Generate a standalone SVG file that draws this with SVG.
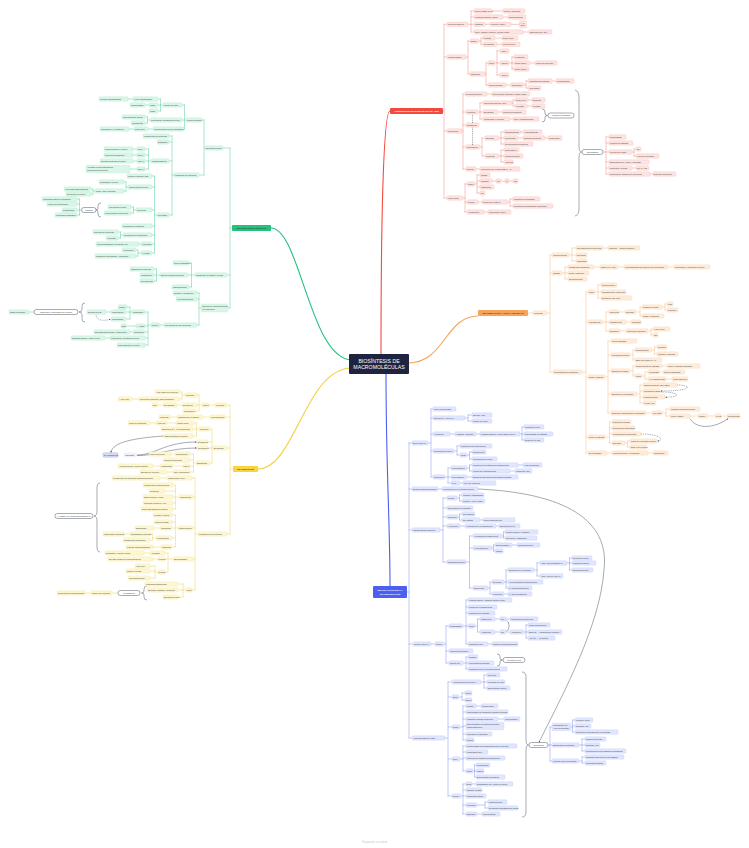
<svg xmlns="http://www.w3.org/2000/svg" width="749" height="848" viewBox="0 0 749 848">
<defs>
<style>
text{font-family:"Liberation Sans",Arial,sans-serif;font-size:2px;fill:#3a3a3a}
rect{rx:1px}
.r rect{fill:#fde4e1;stroke:#f5b2ab;stroke-width:.3}
.g rect{fill:#d9f6e8;stroke:#a6e6c9;stroke-width:.3}
.o rect{fill:#feecda;stroke:#f8cfa5;stroke-width:.3}
.y rect{fill:#fdf6d0;stroke:#f2e39c;stroke-width:.3}
.b rect{fill:#e1e6fe;stroke:#bcc6f9;stroke-width:.3}
.bx rect{fill:#fff;stroke:#3b4256;stroke-width:.45;rx:2.4px}
.bx text{text-anchor:middle}
.ln{fill:none;stroke-width:.55;stroke-linecap:round}
.lr{stroke:#f3958c}.lg{stroke:#5fd6a4}.lo{stroke:#f8c38c}.ly{stroke:#f2d66c}.lb{stroke:#8c9df6}
.mc{fill:none;stroke-width:1.1}
.rel{fill:none;stroke:#3b4256;stroke-width:.45}
.dash{stroke-dasharray:1 .8}
.main text{font-size:2.5px;font-weight:bold;text-anchor:middle}
</style>
<marker id="ah" viewBox="0 0 6 6" refX="5" refY="3" markerWidth="3.5" markerHeight="3.5" orient="auto"><path d="M0,0L6,3L0,6z" fill="#3b4256"/></marker>
</defs>
<rect x="0" y="0" width="749" height="848" fill="#fff" rx="0"/>

<g id="connectors">
<path class="mc" stroke="#f24a3f" d="M381,355 C381,230 383,111 390,111"/>
<path class="mc" stroke="#22c27d" d="M352,360 C310,360 300,228 271,228"/>
<path class="mc" stroke="#f6a45c" d="M408,363 C445,363 445,316 478,316"/>
<path class="mc" stroke="#f2cf3a" d="M352,368 C305,368 295,469 258,469"/>
<path class="mc" stroke="#4b60f0" d="M386,373 C386,470 390,520 390,586"/>

<path class="ln lr" d="M443,111 H444 M444,24.3 V198 M444,24.3 H447 M444,57 H447 M444,131 H447 M444,198 H447
M468,24.3 H471 M471,11 V32 M471,11 H474 M471,17 H474 M471,24.3 H474 M471,32 H474 M492,11 H503 M503,17 H508 M485,24.3 H490 M511,24.3 H519.5 M523,32 H529
M466,57 H468 M468,41 V74 M468,41 H470 M468,74 H470 M479,41 H481 M481,38 V44.3 M481,38 H483 M481,44.3 H483 M495,38 H502 M497,44.3 H502 M485,74 H486 M486,63 V85 M486,63 H488 M486,85 H488 M495,63 H497 M497,51 V75 M497,51 H500 M497,63 H500 M497,75 H500 M509,63 H512 M512,57 V69 M512,57 H514 M512,63 H514 M512,69 H514 M530,63 H535 M506,85 H511 M524,85 H526 M526,81 V88 M526,81 H528 M526,88 H528 M552,81 H556
M462,131 H463 M463,94 V169 M463,94 H465 M463,112 H466 M463,125 H466 M463,147 H466 M463,169 H466 M487,94 H492 M478,112 H480 M480,103 V119 M480,103 H483 M480,112 H483 M480,119 H483 M512,103 H513 M513,100 V106 M513,100 H515 M513,106 H515 M528,100 H532 M527,106 H532 M498,112 H502 M510,119 H513
M480,147 H482 M482,138 V156 M482,138 H485 M482,156 H485 M499,138 H501 M501,132 V144 M501,132 H504 M501,138 H504 M501,144 H504 M520.5,132 H523 M518,138 H523 M545,138 H548 M499,156 H501 M501,150 V162 M501,150 H504 M501,156 H504 M501,162 H504 M476,169 H480
M463,198 H465 M465,184 V212 M465,184 H467 M465,202 H467 M465,212 H467 M475,184 H477 M477,175 V193 M477,175 H480 M477,181 H480 M477,187 H480 M477,193 H480 M492,181 H496 M501,181 H505 M509,181 H513 M478,202 H482 M508,202 H510 M510,199 V206 M510,199 H513 M510,206 H513 M484,212 H488
M603,152 H606 M606,137 V174 M606,137 H609 M606,143 H609 M606,152 H609 M606,162 H609 M606,168 H609 M606,174 H609 M632,152 H634 M634,149 V156 M634,149 H636 M634,156 H636 M632,168 H636 M650,174 H653"/>
<path class="rel dash" marker-end="url(#ah)" d="M472.5,114.8 V123"/>
<path class="rel dash" marker-end="url(#ah)" d="M472.5,127.6 V145"/>
<path class="rel" d="M542,109 Q545,109 545,112 V113.5 Q545,115.5 547.5,115.5 Q545,115.5 545,117.5 V119 Q545,122 542,122"/>
<path class="rel" d="M575,90 Q579,91 579,98 V146 Q579,152 581.5,152 Q579,152 579,158 V209 Q579,215 575,216"/>

<path class="ln lg" d="M230,148 V308 M230,228 H232 M223,148 H230 M227,275 H230 M228,308 H230
M205,148 H204 M204,120 V175 M204,120 H202 M204,175 H199
M186,120 H184.5 M184.5,105 V129 M184.5,105 H182 M184.5,120 H182 M184.5,129 H184
M163,105 H160.5 M160.5,99 V111 M160.5,99 H158 M160.5,105 H158 M160.5,111 H158 M133,99 H128 M149,105 H145
M150,120 H147.5 M147.5,117 V123 M147.5,117 H145 M147.5,123 H145 M153,129 H148 M134,129 H129
M174,175 H172 M172,136 V215 M172,136 H169 M172,142 H169 M172,161 H169 M172,215 H169
M151,161 H148.5 M148.5,149 V169 M148.5,149 H145 M148.5,155 H145 M148.5,161 H145 M148.5,169 H145 M137,149 H133 M137,155 H133 M137,161 H133 M137,169 H130
M157,215 H154.5 M154.5,176 V253 M154.5,176 H152 M154.5,187 H152 M154.5,210 H152 M154.5,226 H152 M154.5,235 H152 M154.5,244 H152 M154.5,253 H152
M128,187 H126 M126,182 V191 M126,182 H124 M126,191 H124 M95,191 H93 M93,189 V194 M93,189 H91 M93,194 H91
M81.5,210 H79.5 M79.5,199 V215 M79.5,199 H77 M79.5,204 H77 M79.5,210 H77 M79.5,215 H77
M136,210 H133.5 M133.5,207 V213 M133.5,207 H131 M133.5,213 H131
M123,235 H120.5 M120.5,232 V238 M120.5,232 H118 M120.5,238 H118 M141,244 H139 M141,253 H138 M138,250 V256 M138,250 H136 M138,256 H136
M195,275 H191.5 M191.5,263 V287 M191.5,263 H189 M191.5,275 H188 M191.5,287 H189 M160,275 H156.5 M156.5,269 V281 M156.5,269 H154 M156.5,275 H154 M156.5,281 H154
M201,308 H199 M199,293 V325 M199,293 H197 M199,299 H197 M199,325 H197 M164,325 H160
M151,325 H148 M148,312 V345 M148,312 H145 M148,326 H145 M148,332 H145 M148,338 H145 M148,345 H145
M132,312 H130 M130,307 V319 M130,307 H127 M130,312 H126 M130,319 H126 M111,312 H106 M136,326 H126 M133,332 H130 M110,338 H105 M34,312 H29"/>
<path class="rel dash" marker-end="url(#ah)" d="M96,314.3 C96,321 104,321 110.5,319.3"/>
<path class="rel" d="M85,303 Q82,303 82,306 V309.5 Q82,312 79,312 Q82,312 82,314.5 V319 Q82,322 85,322"/>
<path class="rel" d="M101,203 Q98,203 98,206 V208 Q98,210 96,210 Q98,210 98,212 V214 Q98,217 101,217"/>

<path class="ln lo" d="M528,313 H533 M547,313 H550 M550,255 V372 M550,255 H552 M550,273 H552 M550,372 H553
M569,255 H572 M572,248 V261 M572,248 H576 M572,255 H576 M572,261 H576 M603,248 H608
M562,273 H565 M565,267 V279 M565,267 H568 M565,273 H568 M565,279 H568 M594,267 H600 M618,267 H624 M668,267 H674
M582,372 H586 M586,292 V453 M586,292 H588 M586,322 H588 M586,377 H588 M586,437 H588 M586,453 H588
M595,292 H598 M598,285 V298 M598,285 H601 M598,292 H601 M598,298 H601
M603,322 H606 M606,312 V331 M606,312 H609 M606,322 H609 M606,331 H609 M619,312 H625 M636,312 H640 M640,307 V316 M640,307 H642 M640,316 H642
M662,307 H665 M665,304 V310 M665,304 H667 M665,310 H667 M626,322 H631 M620,331 H626 M648,331 H651 M651,329 V335 M651,329 H653 M651,335 H653
M605,377 H608 M608,341 V413 M608,341 H611 M608,355 H611 M608,371 H611 M608,394 H611 M608,413 H611
M630,355 H633 M633,350 V360 M633,350 H635 M633,360 H635 M652,350 H654.5 M654.5,347 V354 M654.5,347 H657 M654.5,354 H657
M630,371 H633 M633,366 V376 M633,366 H635 M633,376 H635 M662,366 H667 M642,376 H645 M645,372 V379 M645,372 H648 M645,379 H648 M659,372 H663 M666,379 H672
M637,394 H640 M640,385 V403 M640,385 H643 M640,391 H643 M640,397 H643 M640,403 H643
M646,413 H652 M662,413 H666 M666,409 V416 M666,409 H670 M666,416 H670 M690,416 H698 M708,416 H715 M721,416 H727
M605,437 H609.5 M609.5,422 V443 M609.5,422 H612 M609.5,428 H612 M609.5,434 H612 M609.5,443 H612 M625,443 H627.5 M627.5,441 V447 M627.5,441 H630 M627.5,447 H630
M607,453 H612 M648,453 H653"/>
<path class="rel dash" marker-end="url(#ah)" d="M677,385 C692,385 694,391 661,391"/>
<path class="rel dash" marker-end="url(#ah)" d="M661,392 C680,392 682,397 665.5,397.3"/>
<path class="rel" marker-end="url(#ah)" d="M690,418.6 C695,428 712,430 728,418.6"/>
<path class="rel dash" marker-end="url(#ah)" d="M641,434 C662,434 664,441 657.5,441"/>

<path class="ln ly" d="M230,405 V534 M230,405 H227 M230,417 H225 M230,448 H227 M230,534 H227 M230,469 H233
M215,405 H209 M202,405 H199 M199,395 V411 M199,395 H197 M199,405 H197 M199,411 H196
M185,395 H182 M182,392 V399 M182,392 H180 M182,399 H180 M139,399 H132 M182,405 H177 M163,405 H158
M210,417 H203 M177,417 H171
M213,448 H212 M212,429 V463 M212,429 H210 M212,442 H208 M212,448 H208 M212,463 H210
M199,429 H196.5 M196.5,423 V436 M196.5,423 H194 M196.5,429 H193 M196.5,436 H193 M176,423 H167 M156,423 H150
M196,463 H193.5 M193.5,454 V472 M193.5,454 H190 M193.5,460 H190 M193.5,466 H190 M193.5,472 H190 M175,454 H171 M183,466 H173 M160,466 H153 M173,472 H167
M198,534 H195 M195,478 V590 M195,478 H192 M195,497 H193 M195,528 H193 M195,559 H193 M195,590 H192 M167,478 H160
M179,497 H175.5 M175.5,485 V509 M175.5,485 H173 M175.5,491 H165 M175.5,497 H173 M175.5,503 H173 M175.5,509 H173
M178,528 H175.5 M175.5,515 V547 M175.5,515 H172 M175.5,522 H172 M175.5,528 H172 M175.5,538 H172 M175.5,547 H172 M160,528 H154
M156,538 H152.5 M152.5,534 V540 M152.5,534 H150 M152.5,540 H150 M130,534 H124 M161,547 H153
M173,559 H168 M168,553 V572 M168,553 H165 M168,559 H165 M168,572 H165 M150,553 H144 M158,559 H153
M158,572 H155 M155,566 V578 M155,566 H150 M155,571 H150 M155,578 H150
M186,590 H183 M183,584 V597 M183,584 H178 M183,590 H178 M183,597 H178 M118,593 H112 M91,593 H85"/>
<path class="rel" marker-end="url(#ah)" d="M164,436 C135,438 112,442 111,452.5"/>
<path class="rel" marker-end="url(#ah)" d="M137,455 C155,455 165,442 196.5,442"/>
<path class="rel" marker-end="url(#ah)" d="M137,455.5 C155,456 170,448 196.5,448"/>
<path class="rel" d="M147,586 Q144,586 144,589 V591 Q144,593 141.5,593 Q144,593 144,595 V597 Q144,600 147,600"/>
<path class="rel" d="M100,483 Q97,483 97,488 V511 Q97,516 94,516 Q97,516 97,521 V547 Q97,552 100,552"/>

<path class="ln lb" d="M407,592 H409 M409,443 V738 M409,443 H412 M409,489 H412 M409,530 H412 M409,644 H413 M409,738 H412
M428,443 H431 M431,409 V477 M431,409 H433 M431,418 H433 M431,434 H433 M431,451 H433 M431,477 H433
M465,418 H468 M468,415 V421 M468,415 H472 M468,421 H472 M450,434 H455 M476,434 H480 M520,434 H522 M522,427 V440 M522,427 H524 M522,434 H524 M522,440 H524
M454,451 H457 M457,446 V455 M457,446 H460 M457,455 H460 M467,455 H469.5 M469.5,452 V459 M469.5,452 H472 M469.5,459 H472
M445,477 H448 M448,468 V483 M448,468 H451 M448,477 H451 M448,483 H451 M467,468 H469.5 M469.5,465 V471 M469.5,465 H472 M469.5,471 H472 M518,465 H523 M510,471 H515 M467,477 H472 M460,483 H463
M438,489 H442
M440,530 H443 M443,498 V562 M443,498 H447 M443,508 H447 M443,517 H447 M443,526 H447 M443,562 H447
M457,498 H459.5 M459.5,495 V501 M459.5,495 H462 M459.5,501 H462 M458,517 H459.5 M459.5,514 V520 M459.5,514 H462 M459.5,520 H462 M480,520 H483 M460,526 H465 M496,526 H499
M466,562 H469.5 M469.5,536 V588 M469.5,536 H473 M469.5,548 H473 M469.5,588 H473 M502,536 H503.5 M503.5,532 V538 M503.5,532 H505 M503.5,538 H505
M492,548 H493.5 M493.5,545 V551 M493.5,545 H495 M493.5,551 H495 M512,545 H517
M488,588 H490 M490,582 V594 M490,582 H492 M490,594 H492 M504,582 H506 M506,570 V588 M506,570 H508 M506,582 H508 M506,588 H508
M534,570 H537 M537,563 V576 M537,563 H540 M537,576 H540 M567,563 H569.5 M569.5,558 V570 M569.5,558 H572 M569.5,563 H572 M569.5,570 H572 M504,594 H508
M431,644 H435 M444,644 H446 M446,626 V663 M446,626 H449 M446,651 H449 M446,663 H449
M463,626 H466 M466,600 V644 M466,600 H468 M466,607 H468 M466,613 H468 M466,626 H468 M466,644 H468
M475,626 H477.5 M477.5,619 V632 M477.5,619 H480 M477.5,632 H480 M495,619 H500 M495,632 H500 M506,619 H510 M506,632 H510
M524,632 H526 M526,625 V638 M526,625 H528 M526,632 H528 M526,638 H528 M488,644 H492
M463,663 H466 M466,657 V669 M466,657 H468 M466,663 H468 M466,669 H468
M445,738 H448 M448,682 V796 M448,682 H452 M448,697 H452 M448,727 H452 M448,759 H452 M448,796 H452
M481,682 H484 M484,675 V688 M484,675 H487 M484,682 H487 M484,688 H487 M459,697 H462 M462,693 V700 M462,693 H465 M462,700 H465
M460,727 H463 M463,706 V740 M463,706 H466 M463,712 H466 M463,719 H466 M463,726 H466 M463,734 H466 M463,740 H466 M476,706 H481 M498,719 H504
M460,759 H463 M463,746 V771 M463,746 H466 M463,752 H466 M463,758 H466 M463,771 H466 M473,771 H474.5 M474.5,765 V777 M474.5,765 H476 M474.5,771 H476 M474.5,777 H476
M461,796 H463 M463,784 V814 M463,784 H466 M463,790 H466 M463,796 H466 M463,805 H466 M463,814 H466 M472,784 H476 M477,805 H485 M485,802 V808 M485,802 H488 M485,808 H488 M477,814 H482
M548,745 H550 M550,727 V761 M550,727 H552 M550,745 H552 M550,761 H552
M571,727 H572.5 M572.5,720 V732 M572.5,720 H575 M572.5,726 H575 M572.5,732 H575
M579,745 H582 M582,739 V751 M582,739 H585 M582,745 H585 M582,751 H585 M579,761 H582 M582,757 V763 M582,757 H585 M582,763 H585"/>
<path class="rel" marker-end="url(#ah)" d="M478,489 C565,493 610,520 604,570 C600,625 565,690 539,742.3"/>
<path class="rel" d="M522,672 Q526,672 526,677 V740 Q526,745 528.5,745 Q526,745 526,750 V812 Q526,817 522,817"/>
<path class="rel" d="M497,654 Q500,654 500,656.5 V658 Q500,660 502.5,660 Q500,660 500,662 V663.5 Q500,666 497,666"/>
<path class="rel" d="M506.5,620.5 Q509,621 509,625.5 Q509,630.5 506.5,631"/>
</g>

<g id="center"><rect x="349" y="354" width="60" height="20" rx="2" fill="#1e2440"/><text x="379" y="362.6" style="font-size:5.2px;fill:#fff;text-anchor:middle">BIOSÍNTESIS DE</text><text x="379" y="369.4" style="font-size:5.2px;fill:#fff;text-anchor:middle">MACROMOLÉCULAS</text></g>

<g class="main">
<g id="r0"><rect x="390" y="108" width="53" height="6" fill="#f24a3f"/><text x="416.5" y="111.9" style="fill:#fff">Autoduplicación/Replicación del ADN</text></g>
<g id="g0"><rect x="232" y="225" width="39" height="6" fill="#22c27d"/><text x="251.5" y="228.9">TRANSPORTE CELULAR</text></g>
<g id="o0"><rect x="478" y="310" width="50" height="6" fill="#f6a45c"/><text x="503" y="313.9">INFORMACIÓN Y CICLO CELULAR</text></g>
<g id="y0"><rect x="233" y="466" width="25" height="6" fill="#f8d443"/><text x="245.5" y="469.9">TRADUCCIÓN</text></g>
<g id="b0"><rect x="373" y="586" width="34" height="12" fill="#4b60f0"/><text x="390" y="591" style="fill:#fff">REGULACIÓN DE LA</text><text x="390" y="594.6" style="fill:#fff">TRANSCRIPCIÓN</text></g>
</g>

<g class="r">
<g id="r1"><rect x="447" y="22.1" width="21" height="4.4"/><text x="448" y="25">Contexto histórico</text></g>
<g id="r1a"><rect x="474" y="8.8" width="18" height="4.4"/><text x="475" y="11.7">Grupo Phage (1940)</text></g>
<g id="r1a1"><rect x="503" y="8.8" width="22" height="4.4"/><text x="504" y="11.7">Genes y genomas</text></g>
<g id="r1b"><rect x="474" y="14.8" width="29" height="4.4"/><text x="475" y="17.7">Friedrich Miescher (1869)</text></g>
<g id="r1b1"><rect x="508" y="14.8" width="18" height="4.4"/><text x="509" y="17.7">Descubrimiento</text></g>
<g id="r1c"><rect x="474" y="22.1" width="11" height="4.4"/><text x="475" y="25">Chargaff</text></g>
<g id="r1c1"><rect x="490" y="22.1" width="21" height="4.4"/><text x="491" y="25">Principio (1950)</text></g>
<g id="r1c2"><rect x="519.5" y="20.8" width="7" height="7"/><text x="520.5" y="23.6">A=T</text><text x="520.5" y="26.4">G≡C</text></g>
<g id="r1d"><rect x="474" y="29.8" width="49" height="4.4"/><text x="475" y="32.7">Crick, Watson, Franklin, Wilkins (1953)</text></g>
<g id="r1d1"><rect x="529" y="29.8" width="23" height="4.4"/><text x="530" y="32.7">Estructura del ADN</text></g>
<g id="r2"><rect x="447" y="54.8" width="19" height="4.4"/><text x="448" y="57.7">Características</text></g>
<g id="r2a"><rect x="470" y="38.8" width="9" height="4.4"/><text x="471" y="41.7">Bases</text></g>
<g id="r2a1"><rect x="483" y="35.8" width="12" height="4.4"/><text x="484" y="38.7">Purinas</text></g>
<g id="r2a1a"><rect x="502" y="35.8" width="16" height="4.4"/><text x="503" y="38.7">Doble anillo</text></g>
<g id="r2a2"><rect x="483" y="42.1" width="14" height="4.4"/><text x="484" y="45">Pirimidinas</text></g>
<g id="r2a2a"><rect x="502" y="42.1" width="18" height="4.4"/><text x="503" y="45">Un solo anillo</text></g>
<g id="r2b"><rect x="470" y="71.8" width="15" height="4.4"/><text x="471" y="74.7">Estructura</text></g>
<g id="r2b1"><rect x="488" y="60.8" width="7" height="4.4"/><text x="489" y="63.7">Tipos</text></g>
<g id="r2b1a"><rect x="500" y="48.8" width="9" height="4.4"/><text x="501" y="51.7">ADN-A</text></g>
<g id="r2b1b"><rect x="500" y="60.8" width="9" height="4.4"/><text x="501" y="63.7">ADN-B</text></g>
<g id="r2b1b1"><rect x="514" y="54.8" width="14" height="4.4"/><text x="515" y="57.7">2 cadenas</text></g>
<g id="r2b1b2"><rect x="514" y="60.8" width="16" height="4.4"/><text x="515" y="63.7">Surco mayor</text></g>
<g id="r2b1b2a"><rect x="535" y="60.8" width="22" height="4.4"/><text x="536" y="63.7">Unión de proteínas</text></g>
<g id="r2b1b3"><rect x="514" y="66.8" width="15" height="4.4"/><text x="515" y="69.7">Surco menor</text></g>
<g id="r2b1c"><rect x="500" y="72.8" width="9" height="4.4"/><text x="501" y="75.7">ADN-Z</text></g>
<g id="r2b2"><rect x="488" y="82.8" width="18" height="4.4"/><text x="489" y="85.7">Superenrollado</text></g>
<g id="r2b2a"><rect x="511" y="82.8" width="13" height="4.4"/><text x="512" y="85.7">Eucariotas</text></g>
<g id="r2b2a1"><rect x="528" y="78.8" width="24" height="4.4"/><text x="529" y="81.7">Histonas/nucleosomas</text></g>
<g id="r2b2a1a"><rect x="556" y="78.8" width="18" height="4.4"/><text x="557" y="81.7">Compactación</text></g>
<g id="r2b2a2"><rect x="528" y="85.8" width="13" height="4.4"/><text x="529" y="88.7">ADN girasa</text></g>
<g id="r3"><rect x="447" y="128.8" width="15" height="4.4"/><text x="448" y="131.7">Replicación</text></g>
<g id="r3a"><rect x="465" y="91.8" width="22" height="4.4"/><text x="466" y="94.7">Semiconservativa</text></g>
<g id="r3a1"><rect x="492" y="91.8" width="38" height="4.4"/><text x="493" y="94.7">Experimento Meselson y Stahl (1958)</text></g>
<g id="r3b"><rect x="466" y="109.8" width="12" height="4.4"/><text x="467" y="112.7">Iniciación</text></g>
<g id="r3b1"><rect x="483" y="100.8" width="29" height="4.4"/><text x="484" y="103.7">Zona específica del ADN</text></g>
<g id="r3b1a"><rect x="515" y="97.8" width="13" height="4.4"/><text x="516" y="100.7">Origen (ori)</text></g>
<g id="r3b1a1"><rect x="532" y="97.8" width="13" height="4.4"/><text x="533" y="100.7">Burbujas</text></g>
<g id="r3b1b"><rect x="515" y="103.8" width="12" height="4.4"/><text x="516" y="106.7">Helicasa</text></g>
<g id="r3b1b1"><rect x="532" y="103.8" width="13" height="4.4"/><text x="533" y="106.7">Primasa</text></g>
<g id="r3b2"><rect x="483" y="109.8" width="15" height="4.4"/><text x="484" y="112.7">Eucariotas</text></g>
<g id="r3b2a"><rect x="502" y="109.8" width="24" height="4.4"/><text x="503" y="112.7">Replicones múltiples</text></g>
<g id="r3b3"><rect x="483" y="116.8" width="27" height="4.4"/><text x="484" y="119.7">Procariotas: 1 replicón</text></g>
<g id="r3b3a"><rect x="513" y="116.8" width="26" height="4.4"/><text x="514" y="119.7">OriC y topoisomerasa</text></g>
<g id="r3c"><rect x="466" y="122.8" width="13" height="4.4"/><text x="467" y="125.7">Elongación</text></g>
<g id="r3d"><rect x="466" y="144.8" width="14" height="4.4"/><text x="467" y="147.7">Terminación</text></g>
<g id="r3d1"><rect x="485" y="135.8" width="14" height="4.4"/><text x="486" y="138.7">Enzimas</text></g>
<g id="r3d1a"><rect x="504" y="129.8" width="16.5" height="4.4"/><text x="505" y="132.7">Topoisomerasa</text></g>
<g id="r3d1a1"><rect x="523" y="129.8" width="19" height="4.4"/><text x="524" y="132.7">Autoensamblaje</text></g>
<g id="r3d1b"><rect x="504" y="135.8" width="14" height="4.4"/><text x="505" y="138.7">Telomerasa</text></g>
<g id="r3d1b1"><rect x="523" y="135.8" width="22" height="4.4"/><text x="524" y="138.7">Sintetiza telómeros</text></g>
<g id="r3d1b2"><rect x="548" y="135.8" width="14" height="4.4"/><text x="549" y="138.7">Longevidad</text></g>
<g id="r3d1c"><rect x="504" y="141.8" width="29" height="4.4"/><text x="505" y="144.7">Secuenciación telomérica</text></g>
<g id="r3d2"><rect x="485" y="153.8" width="14" height="4.4"/><text x="486" y="156.7">Proteínas</text></g>
<g id="r3d2a"><rect x="504" y="147.8" width="15" height="4.4"/><text x="505" y="150.7">Proteínas Ku</text></g>
<g id="r3d2b"><rect x="504" y="153.8" width="19" height="4.4"/><text x="505" y="156.7">Proteína Tus/Ter</text></g>
<g id="r3d2c"><rect x="504" y="159.8" width="9" height="4.4"/><text x="505" y="162.7">ADN-Tus</text></g>
<g id="r3e"><rect x="466" y="166.8" width="10" height="4.4"/><text x="467" y="169.7">Errores</text></g>
<g id="r3e1"><rect x="480" y="166.8" width="40" height="4.4"/><text x="481" y="169.7">Corrección por exonucleasa 3'→5'</text></g>
<g id="r4"><rect x="447" y="195.8" width="16" height="4.4"/><text x="448" y="198.7">Ciclo celular</text></g>
<g id="r4a"><rect x="467" y="181.8" width="8" height="4.4"/><text x="468" y="184.7">Fases</text></g>
<g id="r4a1"><rect x="480" y="172.8" width="10" height="4.4"/><text x="481" y="175.7">Mitosis</text></g>
<g id="r4a2"><rect x="480" y="178.8" width="12" height="4.4"/><text x="481" y="181.7">Interfase</text></g>
<g id="r4a2a"><rect x="496" y="178.8" width="5" height="4.4"/><text x="497" y="181.7">G1</text></g>
<g id="r4a2b"><rect x="505" y="178.8" width="4" height="4.4"/><text x="506" y="181.7">S</text></g>
<g id="r4a2c"><rect x="513" y="178.8" width="5" height="4.4"/><text x="514" y="181.7">G2</text></g>
<g id="r4a3"><rect x="480" y="184.8" width="14" height="4.4"/><text x="481" y="187.7">Citocinesis</text></g>
<g id="r4a4"><rect x="480" y="190.8" width="5" height="4.4"/><text x="481" y="193.7">G0</text></g>
<g id="r4b"><rect x="467" y="199.8" width="11" height="4.4"/><text x="468" y="202.7">Puntos</text></g>
<g id="r4b1"><rect x="482" y="199.8" width="26" height="4.4"/><text x="483" y="202.7">Control de la fase S</text></g>
<g id="r4b1a"><rect x="513" y="196.8" width="27" height="4.4"/><text x="514" y="199.7">Separación cromátidas</text></g>
<g id="r4b1b"><rect x="513" y="203.8" width="40" height="4.4"/><text x="514" y="206.7">Separación cromosomas homólogos</text></g>
<g id="r4c"><rect x="467" y="209.8" width="17" height="4.4"/><text x="468" y="212.7">Alteraciones</text></g>
<g id="r4c1"><rect x="488" y="209.8" width="23" height="4.4"/><text x="489" y="212.7">Infecciones virales</text></g>
<g id="rc1"><rect x="609" y="134.8" width="17" height="4.4"/><text x="610" y="137.7">Proofreading</text></g>
<g id="rc2"><rect x="609" y="140.8" width="24" height="4.4"/><text x="610" y="143.7">Proceso de cascada</text></g>
<g id="rc3"><rect x="609" y="149.8" width="23" height="4.4"/><text x="610" y="152.7">Licencia de origen</text></g>
<g id="rc3a"><rect x="636" y="146.8" width="5" height="4.4"/><text x="637" y="149.7">S1</text></g>
<g id="rc3b"><rect x="636" y="153.8" width="23" height="4.4"/><text x="637" y="156.7">Hora de replicación</text></g>
<g id="rc4"><rect x="609" y="159.8" width="40" height="4.4"/><text x="610" y="162.7">Estructuras (RF), ORIs y helicasas</text></g>
<g id="rc5"><rect x="609" y="165.8" width="23" height="4.4"/><text x="610" y="168.7">Quimeras y células</text></g>
<g id="rc5a"><rect x="636" y="165.8" width="13" height="4.4"/><text x="637" y="168.7">G1, S y G2</text></g>
<g id="rc6"><rect x="609" y="171.8" width="41" height="4.4"/><text x="610" y="174.7">Proteínas de bloqueo de replicación</text></g>
<g id="rc6a"><rect x="653" y="171.8" width="23" height="4.4"/><text x="654" y="174.7">Defectos: telómeros</text></g>
</g>

<g class="g">
<g id="g1"><rect x="205" y="145.8" width="18" height="4.4"/><text x="206" y="148.7">Envoltura nuclear</text></g>
<g id="g1a"><rect x="186" y="117.8" width="16" height="4.4"/><text x="187" y="120.7">Poros nucleares</text></g>
<g id="g1a1"><rect x="163" y="102.8" width="19" height="4.4"/><text x="164" y="105.7">Núcleo del poro</text></g>
<g id="g1a1a"><rect x="133" y="96.8" width="25" height="4.4"/><text x="134" y="99.7">Anillo citoplasmático</text></g>
<g id="g1a1a1"><rect x="99" y="96.8" width="29" height="4.4"/><text x="100" y="99.7">Fibrillas citoplasmáticas</text></g>
<g id="g1a1b"><rect x="149" y="102.8" width="9" height="4.4"/><text x="150" y="105.7">Canal</text></g>
<g id="g1a1b1"><rect x="130" y="102.8" width="15" height="4.4"/><text x="131" y="105.7">Transportador</text></g>
<g id="g1a1c"><rect x="149" y="108.8" width="9" height="4.4"/><text x="150" y="111.7">Cesta</text></g>
<g id="g1a2"><rect x="150" y="117.8" width="32" height="4.4"/><text x="151" y="120.7">Proteínas de membrana nuclear</text></g>
<g id="g1a2a"><rect x="122" y="114.8" width="23" height="4.4"/><text x="123" y="117.7">Nucleoporinas (NPCs)</text></g>
<g id="g1a2b"><rect x="131" y="120.8" width="14" height="4.4"/><text x="132" y="123.7">Carioferinas</text></g>
<g id="g1a3"><rect x="153" y="126.8" width="31" height="4.4"/><text x="154" y="129.7">Comunicación núcleo-citoplasma</text></g>
<g id="g1a3a"><rect x="134" y="126.8" width="14" height="4.4"/><text x="135" y="129.7">Señal NLS</text></g>
<g id="g1a3a1"><rect x="100" y="126.8" width="29" height="4.4"/><text x="101" y="129.7">Importación y exportación</text></g>
<g id="g1b"><rect x="174" y="172.8" width="25" height="4.4"/><text x="175" y="175.7">Transporte de proteínas</text></g>
<g id="g1b1"><rect x="143" y="133.8" width="26" height="4.4"/><text x="144" y="136.7">Plegamiento de proteínas</text></g>
<g id="g1b2"><rect x="157" y="139.8" width="12" height="4.4"/><text x="158" y="142.7">Orgánulos</text></g>
<g id="g1b3"><rect x="151" y="158.8" width="18" height="4.4"/><text x="152" y="161.7">Transportadores</text></g>
<g id="g1b3a"><rect x="137" y="146.8" width="8" height="4.4"/><text x="138" y="149.7">Tipo I</text></g>
<g id="g1b3a1"><rect x="104" y="146.8" width="29" height="4.4"/><text x="105" y="149.7">Proteína hacia el exterior</text></g>
<g id="g1b3b"><rect x="137" y="152.8" width="8" height="4.4"/><text x="138" y="155.7">Tipo II</text></g>
<g id="g1b3b1"><rect x="104" y="152.8" width="29" height="4.4"/><text x="105" y="155.7">Proteína periplásmica</text></g>
<g id="g1b3c"><rect x="137" y="158.8" width="8" height="4.4"/><text x="138" y="161.7">Tipo III</text></g>
<g id="g1b3c1"><rect x="100" y="158.8" width="33" height="4.4"/><text x="101" y="161.7">Exportar proteínas al medio</text></g>
<g id="g1b3d"><rect x="137" y="166.8" width="8" height="4.4"/><text x="138" y="169.7">Tipo IV</text></g>
<g id="g1b3d1"><rect x="86" y="165.3" width="44" height="7.4"/><text x="87" y="168">Acoplado a otros sistemas de</text><text x="87" y="170.8">conjugación bacteriana</text></g>
<g id="g1b4"><rect x="157" y="212.8" width="12" height="4.4"/><text x="158" y="215.7">Exocitosis</text></g>
<g id="g1b4a"><rect x="127" y="173.8" width="25" height="4.4"/><text x="128" y="176.7">Proceso vesicular (RE)</text></g>
<g id="g1b4b"><rect x="128" y="184.8" width="24" height="4.4"/><text x="129" y="187.7">Comunicación celular</text></g>
<g id="g1b4b1"><rect x="99" y="179.8" width="25" height="4.4"/><text x="100" y="182.7">Citoplasma y núcleo</text></g>
<g id="g1b4b2"><rect x="95" y="188.8" width="29" height="4.4"/><text x="96" y="191.7">Golgi y RE (vesículas)</text></g>
<g id="g1b4b2a"><rect x="64" y="186.8" width="27" height="4.4"/><text x="65" y="189.7">Vesículas transportadoras</text></g>
<g id="g1b4b2b"><rect x="66" y="191.8" width="25" height="4.4"/><text x="67" y="194.7">Secreción al exterior</text></g>
<g id="g1b4v1"><rect x="42" y="196.8" width="35" height="4.4"/><text x="43" y="199.7">Compartimentos de membrana</text></g>
<g id="g1b4v2"><rect x="47" y="201.8" width="30" height="4.4"/><text x="48" y="204.7">Fusión de membranas</text></g>
<g id="g1b4v3"><rect x="62" y="207.8" width="15" height="4.4"/><text x="63" y="210.7">Señalización</text></g>
<g id="g1b4v4"><rect x="55" y="212.8" width="22" height="4.4"/><text x="56" y="215.7">Membrana plasmática</text></g>
<g id="g1b4c"><rect x="136" y="207.8" width="16" height="4.4"/><text x="137" y="210.7">Secreción</text></g>
<g id="g1b4c1"><rect x="108" y="204.8" width="23" height="4.4"/><text x="109" y="207.7">Crecimiento celular</text></g>
<g id="g1b4c2"><rect x="104" y="210.8" width="27" height="4.4"/><text x="105" y="213.7">Comunicación intercelular</text></g>
<g id="g1b4d"><rect x="122" y="223.8" width="30" height="4.4"/><text x="123" y="226.7">Importación al lisosoma</text></g>
<g id="g1b4e"><rect x="123" y="232.8" width="29" height="4.4"/><text x="124" y="235.7">Reparación de membrana</text></g>
<g id="g1b4e1"><rect x="93" y="229.8" width="25" height="4.4"/><text x="94" y="232.7">Inserción de proteínas</text></g>
<g id="g1b4e2"><rect x="106" y="235.8" width="12" height="4.4"/><text x="107" y="238.7">Vesículas</text></g>
<g id="g1b4f"><rect x="141" y="241.8" width="11" height="4.4"/><text x="142" y="244.7">Hormonas</text></g>
<g id="g1b4f1"><rect x="96" y="241.8" width="43" height="4.4"/><text x="97" y="244.7">Neurotransmisores, hormonas, etc.</text></g>
<g id="g1b4g"><rect x="141" y="250.8" width="11" height="4.4"/><text x="142" y="253.7">Vía RER</text></g>
<g id="g1b4g1"><rect x="122" y="247.8" width="14" height="4.4"/><text x="123" y="250.7">Anticuerpos</text></g>
<g id="g1b4g2"><rect x="95" y="253.8" width="41" height="4.4"/><text x="96" y="256.7">Transporte anterógrado y retrógrado</text></g>
<g id="g2"><rect x="195" y="272.8" width="32" height="4.4"/><text x="196" y="275.7">Transporte en tejidos y células</text></g>
<g id="g2a"><rect x="173" y="260.8" width="16" height="4.4"/><text x="174" y="263.7">Microvellosidades</text></g>
<g id="g2b"><rect x="160" y="272.8" width="28" height="4.4"/><text x="161" y="275.7">Barrera hematoencefálica</text></g>
<g id="g2b1"><rect x="130" y="266.8" width="24" height="4.4"/><text x="131" y="269.7">Cápsulas de proteínas</text></g>
<g id="g2b2"><rect x="140" y="272.8" width="14" height="4.4"/><text x="141" y="275.7">Transferrina</text></g>
<g id="g2b3"><rect x="140" y="278.8" width="14" height="4.4"/><text x="141" y="281.7">Exovesículas</text></g>
<g id="g2c"><rect x="172" y="284.8" width="17" height="4.4"/><text x="173" y="287.7">Nanopartículas</text></g>
<g id="g3"><rect x="201" y="304" width="27" height="8"/><text x="202" y="307.3">Sistema de endomembranas</text><text x="202" y="310.3">(vía secretora)</text></g>
<g id="g3a"><rect x="173" y="290.8" width="24" height="4.4"/><text x="174" y="293.7">Señales y orientación</text></g>
<g id="g3b"><rect x="176" y="296.8" width="21" height="4.4"/><text x="177" y="299.7">Flujo bidireccional</text></g>
<g id="g3c"><rect x="164" y="322.8" width="33" height="4.4"/><text x="165" y="325.7">Movimiento de las moléculas</text></g>
<g id="g3c0"><rect x="151" y="322.8" width="9" height="4.4"/><text x="152" y="325.7">Núcleo</text></g>
<g id="g3c1"><rect x="132" y="309.8" width="13" height="4.4"/><text x="133" y="312.7">Citoplasma</text></g>
<g id="g3c1a"><rect x="118" y="304.8" width="9" height="4.4"/><text x="119" y="307.7">Citosol</text></g>
<g id="g3c1b"><rect x="111" y="309.8" width="15" height="4.4"/><text x="112" y="312.7">Mitocondrias</text></g>
<g id="g3c1b1"><rect x="87" y="309.8" width="19" height="4.4"/><text x="88" y="312.7">Energía celular</text></g>
<g id="g3c1c"><rect x="111" y="316.8" width="15" height="4.4"/><text x="112" y="319.7">Cloroplastos</text></g>
<g id="g3d"><rect x="9" y="309.8" width="20" height="4.4"/><text x="10" y="312.7">Gasto energético</text></g>
<g id="g3c2"><rect x="136" y="323.8" width="9" height="4.4"/><text x="137" y="326.7">A. Golgi</text></g>
<g id="g3c2a"><rect x="121" y="323.8" width="5" height="4.4"/><text x="121.6" y="326.7">RER</text></g>
<g id="g3c3"><rect x="133" y="329.8" width="12" height="4.4"/><text x="134" y="332.7">Lisosomas</text></g>
<g id="g3c3a"><rect x="94" y="329.8" width="36" height="4.4"/><text x="95" y="332.7">Enzimas proteolíticas y lisosomales</text></g>
<g id="g3c4"><rect x="110" y="335.8" width="35" height="4.4"/><text x="111" y="338.7">Proteínas de membrana celular</text></g>
<g id="g3c4a"><rect x="71" y="335.8" width="34" height="4.4"/><text x="72" y="338.7">Santiago Ramón y Cajal (1910)</text></g>
<g id="g3c5"><rect x="117" y="342.8" width="28" height="4.4"/><text x="118" y="345.7">Proteínas para el núcleo</text></g>
</g>

<g class="o">
<g id="o1"><rect x="533" y="310.8" width="14" height="4.4"/><text x="534" y="313.7">Proteínas</text></g>
<g id="o1a"><rect x="552" y="252.8" width="17" height="4.4"/><text x="553" y="255.7">Consecuencias</text></g>
<g id="o1a1"><rect x="576" y="245.8" width="27" height="4.4"/><text x="577" y="248.7">Deriva/Evolución molecular</text></g>
<g id="o1a1a"><rect x="608" y="245.8" width="32" height="4.4"/><text x="609" y="248.7">Mutación = cambio biológico</text></g>
<g id="o1a2"><rect x="576" y="252.8" width="11" height="4.4"/><text x="577" y="255.7">Evolución</text></g>
<g id="o1a3"><rect x="576" y="258.8" width="11" height="4.4"/><text x="577" y="261.7">Patologías</text></g>
<g id="o1b"><rect x="552" y="270.8" width="10" height="4.4"/><text x="553" y="273.7">Causas</text></g>
<g id="o1b1"><rect x="568" y="264.8" width="26" height="4.4"/><text x="569" y="267.7">Sustancias endógenas</text></g>
<g id="o1b1a"><rect x="600" y="264.8" width="18" height="4.4"/><text x="601" y="267.7">Daño en el ADN</text></g>
<g id="o1b1b"><rect x="624" y="264.8" width="44" height="4.4"/><text x="625" y="267.7">Incompatibilidad de factores con polimerasa</text></g>
<g id="o1b1c"><rect x="674" y="264.8" width="36" height="4.4"/><text x="675" y="267.7">Replicación y reparación errónea</text></g>
<g id="o1b2"><rect x="568" y="270.8" width="21" height="4.4"/><text x="569" y="273.7">Dieta y ambiente</text></g>
<g id="o1b3"><rect x="568" y="276.8" width="19" height="4.4"/><text x="569" y="279.7">Envejecimiento</text></g>
<g id="o1c"><rect x="553" y="369.8" width="29" height="4.4"/><text x="554" y="372.7">Mecanismos de reparación</text></g>
<g id="o1c1"><rect x="588" y="289.8" width="7" height="4.4"/><text x="589" y="292.7">Usos</text></g>
<g id="o1c1a"><rect x="601" y="282.8" width="16" height="4.4"/><text x="602" y="285.7">Terapia cáncer</text></g>
<g id="o1c1b"><rect x="601" y="289.8" width="25" height="4.4"/><text x="602" y="292.7">Marcadores de protección</text></g>
<g id="o1c1c"><rect x="601" y="295.8" width="31" height="4.4"/><text x="602" y="298.7">Efectos de alto valor</text></g>
<g id="o1c2"><rect x="588" y="319.8" width="15" height="4.4"/><text x="589" y="322.7">Formado por</text></g>
<g id="o1c2a"><rect x="609" y="309.8" width="10" height="4.4"/><text x="610" y="312.7">Detección</text></g>
<g id="o1c2a1"><rect x="625" y="309.8" width="11" height="4.4"/><text x="626" y="312.7">Enzimas</text></g>
<g id="o1c2a1a"><rect x="642" y="304.8" width="20" height="4.4"/><text x="643" y="307.7">Puntos de control</text></g>
<g id="o1c2a1a1"><rect x="667" y="301.8" width="6" height="4.4"/><text x="668" y="304.7">Paro</text></g>
<g id="o1c2a1a2"><rect x="667" y="307.8" width="11" height="4.4"/><text x="668" y="310.7">Continúa</text></g>
<g id="o1c2a1b"><rect x="642" y="313.8" width="22" height="4.4"/><text x="643" y="316.7">Rutas y ubiquitina</text></g>
<g id="o1c2b"><rect x="609" y="319.8" width="17" height="4.4"/><text x="610" y="322.7">Transducción</text></g>
<g id="o1c2b1"><rect x="631" y="319.8" width="10" height="4.4"/><text x="632" y="322.7">Quinasas</text></g>
<g id="o1c2c"><rect x="609" y="328.8" width="11" height="4.4"/><text x="610" y="331.7">Efectores</text></g>
<g id="o1c2c1"><rect x="626" y="328.8" width="22" height="4.4"/><text x="627" y="331.7">Proteínas reparación</text></g>
<g id="o1c2c1a"><rect x="653" y="326.8" width="17" height="4.4"/><text x="654" y="329.7">Vías o tipos</text></g>
<g id="o1c2c1b"><rect x="653" y="332.8" width="5" height="4.4"/><text x="654" y="335.7">p53</text></g>
<g id="o1c3"><rect x="588" y="374.8" width="17" height="4.4"/><text x="589" y="377.7">Sobre 1 cadena</text></g>
<g id="o1c3a"><rect x="611" y="338.8" width="26" height="4.4"/><text x="612" y="341.7">Mayor fiabilidad</text></g>
<g id="o1c3b"><rect x="611" y="352.8" width="19" height="4.4"/><text x="612" y="355.7">Reparación directa</text></g>
<g id="o1c3b1"><rect x="635" y="347.8" width="17" height="4.4"/><text x="636" y="350.7">Desmetilación</text></g>
<g id="o1c3b1a"><rect x="657" y="344.8" width="10" height="4.4"/><text x="658" y="347.7">Guanina</text></g>
<g id="o1c3b1b"><rect x="657" y="351.8" width="21" height="4.4"/><text x="658" y="354.7">Uracilos y citosinas</text></g>
<g id="o1c3b2"><rect x="635" y="357.8" width="27" height="4.4"/><text x="636" y="360.7">BER (Reversión C→T)</text></g>
<g id="o1c3c"><rect x="611" y="368.8" width="19" height="4.4"/><text x="612" y="371.7">Escisión de bases</text></g>
<g id="o1c3c1"><rect x="635" y="363.8" width="27" height="4.4"/><text x="636" y="366.7">Complemento de cascada</text></g>
<g id="o1c3c1a"><rect x="667" y="363.8" width="33" height="4.4"/><text x="668" y="366.7">Incluye enzimas reguladas</text></g>
<g id="o1c3c2"><rect x="635" y="373.8" width="7" height="4.4"/><text x="636" y="376.7">Tipos</text></g>
<g id="o1c3c2a"><rect x="648" y="369.8" width="11" height="4.4"/><text x="649" y="372.7">Glicosilasa</text></g>
<g id="o1c3c2a1"><rect x="663" y="369.8" width="22" height="4.4"/><text x="664" y="372.7">Quita inestabilidad</text></g>
<g id="o1c3c2b"><rect x="648" y="376.8" width="18" height="4.4"/><text x="649" y="379.7">AP endonucleasa</text></g>
<g id="o1c3c2b1"><rect x="672" y="376.8" width="16" height="4.4"/><text x="673" y="379.7">Corta esqueleto</text></g>
<g id="o1c3d"><rect x="611" y="391.8" width="26" height="4.4"/><text x="612" y="394.7">Escisión de nucleótidos</text></g>
<g id="o1c3d1"><rect x="643" y="382.8" width="34" height="4.4"/><text x="644" y="385.7">Cadena larga de ADN (NER)</text></g>
<g id="o1c3d2"><rect x="643" y="388.8" width="17" height="4.4"/><text x="644" y="391.7">Reparación rápida</text></g>
<g id="o1c3d3"><rect x="643" y="394.8" width="22" height="4.4"/><text x="644" y="397.7">Transcripcional</text></g>
<g id="o1c3d4"><rect x="643" y="400.8" width="13" height="4.4"/><text x="644" y="403.7">Vía del ATP</text></g>
<g id="o1c3e"><rect x="611" y="410.8" width="35" height="4.4"/><text x="612" y="413.7">Errores de apareamiento (mismatch)</text></g>
<g id="o1c3e1"><rect x="652" y="410.8" width="10" height="4.4"/><text x="653" y="413.7">Por MMR</text></g>
<g id="o1c3e1a"><rect x="670" y="406.8" width="30" height="4.4"/><text x="671" y="409.7">Cambios conformacionales</text></g>
<g id="o1c3e1b"><rect x="670" y="413.8" width="20" height="4.4"/><text x="671" y="416.7">Incluye bases</text></g>
<g id="o1c3e1b1"><rect x="698" y="413.8" width="10" height="4.4"/><text x="699" y="416.7">MutS/L</text></g>
<g id="o1c3e1b2"><rect x="715" y="413.8" width="6" height="4.4"/><text x="716" y="416.7">GATC</text></g>
<g id="o1c3e1b3"><rect x="727" y="413.8" width="13" height="4.4"/><text x="728" y="416.7">Exonucleasa</text></g>
<g id="o1c4"><rect x="588" y="434.8" width="17" height="4.4"/><text x="589" y="437.7">Sobre 2 cadenas</text></g>
<g id="o1c4a"><rect x="612" y="419.8" width="19" height="4.4"/><text x="613" y="422.7">Difíciles de reparar</text></g>
<g id="o1c4b"><rect x="612" y="425.8" width="23" height="4.4"/><text x="613" y="428.7">Extremos no homólogos</text></g>
<g id="o1c4c"><rect x="612" y="431.8" width="29" height="4.4"/><text x="613" y="434.7">Recombinación homóloga</text></g>
<g id="o1c4d"><rect x="612" y="440.8" width="13" height="4.4"/><text x="613" y="443.7">Enzimas</text></g>
<g id="o1c4d1"><rect x="630" y="438.8" width="27" height="4.4"/><text x="631" y="441.7">Unión de extremos Ku70/80</text></g>
<g id="o1c4d2"><rect x="630" y="444.8" width="17" height="4.4"/><text x="631" y="447.7">BRCA1/2 (Werner)</text></g>
<g id="o1c5"><rect x="588" y="450.8" width="19" height="4.4"/><text x="589" y="453.7">En eucariotas</text></g>
<g id="o1c5a"><rect x="612" y="450.8" width="36" height="4.4"/><text x="613" y="453.7">Post replicación y crecimiento</text></g>
<g id="o1c5b"><rect x="653" y="450.8" width="15" height="4.4"/><text x="654" y="453.7">Replicación</text></g>
</g>

<g class="y">
<g id="y1"><rect x="215" y="402.8" width="12" height="4.4"/><text x="216" y="405.7">Procesos</text></g>
<g id="y1a"><rect x="202" y="402.8" width="7" height="4.4"/><text x="203" y="405.7">Fases</text></g>
<g id="y1a1"><rect x="185" y="392.8" width="12" height="4.4"/><text x="186" y="395.7">Iniciación</text></g>
<g id="y1a1a"><rect x="155" y="389.8" width="25" height="4.4"/><text x="156" y="392.7">AUG codón de iniciación</text></g>
<g id="y1a1b"><rect x="139" y="396.8" width="41" height="4.4"/><text x="140" y="399.7">Secuencia consenso (Shine-Dalgarno)</text></g>
<g id="y1a1b1"><rect x="118" y="396.8" width="14" height="4.4"/><text x="119" y="399.7">(AGGAGG)</text></g>
<g id="y1a2"><rect x="182" y="402.8" width="15" height="4.4"/><text x="183" y="405.7">Elongación</text></g>
<g id="y1a2a"><rect x="163" y="402.8" width="14" height="4.4"/><text x="164" y="405.7">En cascada</text></g>
<g id="y1a2b"><rect x="152" y="402.8" width="6" height="4.4"/><text x="152.6" y="405.7">tRNA</text></g>
<g id="y1a3"><rect x="183" y="408.8" width="13" height="4.4"/><text x="184" y="411.7">Terminación</text></g>
<g id="y2"><rect x="210" y="414.8" width="15" height="4.4"/><text x="211" y="417.7">Polirribosomas</text></g>
<g id="y2a"><rect x="177" y="414.8" width="26" height="4.4"/><text x="178" y="417.7">Codificación en cadena</text></g>
<g id="y2b"><rect x="159" y="414.8" width="12" height="4.4"/><text x="160" y="417.7">Proteínas</text></g>
<g id="y3"><rect x="213" y="445.8" width="14" height="4.4"/><text x="214" y="448.7">Eucariotas</text></g>
<g id="y3a"><rect x="199" y="426.8" width="11" height="4.4"/><text x="200" y="429.7">Iniciación</text></g>
<g id="y3a1"><rect x="176" y="420.8" width="18" height="4.4"/><text x="177" y="423.7">Codón inicial</text></g>
<g id="y3a1a"><rect x="156" y="420.8" width="11" height="4.4"/><text x="157" y="423.7">AUG-Met</text></g>
<g id="y3a1b"><rect x="128" y="420.8" width="22" height="4.4"/><text x="129" y="423.7">Unión del ribosoma</text></g>
<g id="y3a2"><rect x="161" y="426.8" width="32" height="4.4"/><text x="162" y="429.7">Estructura 2ª y 3ª interacciones</text></g>
<g id="y3a3"><rect x="164" y="433.8" width="29" height="4.4"/><text x="165" y="436.7">Especificidad de la aaRS</text></g>
<g id="y3b"><rect x="197" y="439.8" width="11" height="4.4"/><text x="198" y="442.7">Elongación</text></g>
<g id="y3c"><rect x="197" y="445.8" width="11" height="4.4"/><text x="198" y="448.7">Terminación</text></g>
<g id="y3d"><rect x="196" y="460.8" width="14" height="4.4"/><text x="197" y="463.7">Estrategias</text></g>
<g id="y3d1"><rect x="175" y="451.8" width="15" height="4.4"/><text x="176" y="454.7">Optimización</text></g>
<g id="y3d1a"><rect x="149" y="451.8" width="22" height="4.4"/><text x="150" y="454.7">Mayor eficiencia</text></g>
<g id="y3d2"><rect x="163" y="457.8" width="27" height="4.4"/><text x="164" y="460.7">Codones sinónimos</text></g>
<g id="y3d3"><rect x="183" y="463.8" width="7" height="4.4"/><text x="183.6" y="466.7">tRNAs</text></g>
<g id="y3d3a"><rect x="160" y="463.8" width="13" height="4.4"/><text x="161" y="466.7">Modificados</text></g>
<g id="y3d3b"><rect x="118" y="463.8" width="35" height="4.4"/><text x="119" y="466.7">Alineamiento de ARN de fijación</text></g>
<g id="y3d4"><rect x="173" y="469.8" width="17" height="4.4"/><text x="174" y="472.7">tRNA supresores</text></g>
<g id="y3d4a"><rect x="140" y="469.8" width="27" height="4.4"/><text x="141" y="472.7">Emisión de la fuente</text></g>
<g id="y4"><rect x="198" y="531.8" width="29" height="4.4"/><text x="199" y="534.7">Plegamiento de proteínas</text></g>
<g id="y4a"><rect x="167" y="475.8" width="25" height="4.4"/><text x="168" y="478.7">Chaperonas (HSP)</text></g>
<g id="y4a1"><rect x="112" y="475.8" width="48" height="4.4"/><text x="113" y="478.7">Plegamiento de proteínas (desnaturalización)</text></g>
<g id="y4b"><rect x="179" y="494.8" width="14" height="4.4"/><text x="180" y="497.7">Chaperonas</text></g>
<g id="y4b1"><rect x="143" y="482.8" width="30" height="4.4"/><text x="144" y="485.7">Plegamiento conformacional</text></g>
<g id="y4b2"><rect x="149" y="488.8" width="16" height="4.4"/><text x="150" y="491.7">Oxidación</text></g>
<g id="y4b3"><rect x="143" y="494.8" width="30" height="4.4"/><text x="144" y="497.7">Estrés térmico y físico</text></g>
<g id="y4b4"><rect x="143" y="500.8" width="30" height="4.4"/><text x="144" y="503.7">Procesos celulares (ATP)</text></g>
<g id="y4b5"><rect x="141" y="506.8" width="32" height="4.4"/><text x="142" y="509.7">Evitar agregamiento proteico</text></g>
<g id="y4c"><rect x="178" y="525.8" width="15" height="4.4"/><text x="179" y="528.7">Chaperoninas</text></g>
<g id="y4c1"><rect x="153" y="512.8" width="19" height="4.4"/><text x="154" y="515.7">Plegado (HSP60)</text></g>
<g id="y4c2"><rect x="154" y="519.8" width="18" height="4.4"/><text x="155" y="522.7">Proteína GroEL</text></g>
<g id="y4c3"><rect x="160" y="525.8" width="12" height="4.4"/><text x="161" y="528.7">Lisosomas</text></g>
<g id="y4c3a"><rect x="135" y="525.8" width="19" height="4.4"/><text x="136" y="528.7">Endocitosis</text></g>
<g id="y4c4"><rect x="156" y="535.8" width="16" height="4.4"/><text x="157" y="538.7">Proteasomas</text></g>
<g id="y4c4a"><rect x="130" y="531.8" width="20" height="4.4"/><text x="131" y="534.7">Degradación proteínas</text></g>
<g id="y4c4a1"><rect x="103" y="531.8" width="21" height="4.4"/><text x="104" y="534.7">Respuesta a fármacos</text></g>
<g id="y4c4b"><rect x="123" y="537.8" width="27" height="4.4"/><text x="124" y="540.7">Tratamiento inflamatorio</text></g>
<g id="y4c5"><rect x="161" y="544.8" width="11" height="4.4"/><text x="162" y="547.7">Ubiquitina</text></g>
<g id="y4c5a"><rect x="126" y="544.8" width="27" height="4.4"/><text x="127" y="547.7">Marcaje para degradación</text></g>
<g id="y4d"><rect x="173" y="556.8" width="20" height="4.4"/><text x="174" y="559.7">Enfermedades</text></g>
<g id="y4d1"><rect x="150" y="550.8" width="15" height="4.4"/><text x="151" y="553.7">Amiloides</text></g>
<g id="y4d1a"><rect x="105" y="550.8" width="39" height="4.4"/><text x="106" y="553.7">Expansión y muerte celular</text></g>
<g id="y4d2"><rect x="158" y="556.8" width="7" height="4.4"/><text x="158.6" y="559.7">Priones</text></g>
<g id="y4d2a"><rect x="108" y="556.8" width="45" height="4.4"/><text x="109" y="559.7">Elevado cambio de conformaciones</text></g>
<g id="y4d3"><rect x="158" y="569.8" width="7" height="4.4"/><text x="158.6" y="572.7">Grupos</text></g>
<g id="y4d3a"><rect x="135" y="563.8" width="15" height="4.4"/><text x="136" y="566.7">Vaca loca</text></g>
<g id="y4d3b"><rect x="126" y="568.8" width="24" height="4.4"/><text x="127" y="571.7">Scrapie (ovejas)</text></g>
<g id="y4d3c"><rect x="128" y="575.8" width="22" height="4.4"/><text x="129" y="578.7">Creutzfeldt-Jakob</text></g>
<g id="y4e"><rect x="186" y="587.8" width="6" height="4.4"/><text x="186.7" y="590.7">Usos</text></g>
<g id="y4e1"><rect x="145" y="581.8" width="33" height="4.4"/><text x="146" y="584.7">Proteínas estructurales</text></g>
<g id="y4e2"><rect x="147" y="587.8" width="31" height="4.4"/><text x="148" y="590.7">Enzimas, péptidos y proteínas</text></g>
<g id="y4e3"><rect x="163" y="594.8" width="15" height="4.4"/><text x="164" y="597.7">Enzimas flexibles</text></g>
<g id="y5a"><rect x="91" y="590.8" width="21" height="4.4"/><text x="92" y="593.7">Mapeo con CRISPR</text></g>
<g id="y5b"><rect x="57" y="590.8" width="28" height="4.4"/><text x="58" y="593.7">Secuenciación bioinformática</text></g>
</g>

<g id="diag"><rect x="103" y="452.8" width="15" height="4.4" fill="#d9dcf7" stroke="#8a90c8" stroke-width=".3"/><text x="104" y="455.7">DIAGNÓSTICO</text></g>
<g id="facil"><rect x="124" y="452.8" width="13" height="4.4" fill="#eef0fb"/><text x="125" y="455.7">Facilitador</text></g>

<g class="b">
<g id="b1"><rect x="412" y="440.8" width="16" height="4.4"/><text x="413" y="443.7">EUCARIOTAS</text></g>
<g id="b1a"><rect x="433" y="406.8" width="23" height="4.4"/><text x="434" y="409.7">Mayor complejidad</text></g>
<g id="b1b"><rect x="433" y="415.8" width="32" height="4.4"/><text x="434" y="418.7">Operones y ARN Pol II</text></g>
<g id="b1b1"><rect x="472" y="412.8" width="20" height="4.4"/><text x="473" y="415.7">Enzima ARNt</text></g>
<g id="b1b2"><rect x="472" y="418.8" width="20" height="4.4"/><text x="473" y="421.7">Región de unión</text></g>
<g id="b1c"><rect x="433" y="431.8" width="17" height="4.4"/><text x="434" y="434.7">Acetilación</text></g>
<g id="b1c1"><rect x="455" y="431.8" width="21" height="4.4"/><text x="456" y="434.7">Histonas - Enzimas</text></g>
<g id="b1c2"><rect x="480" y="431.8" width="40" height="4.4"/><text x="481" y="434.7">Richard Roberts y Phillip Sharp (1977)</text></g>
<g id="b1c2a"><rect x="524" y="424.8" width="20" height="4.4"/><text x="525" y="427.7">Regulación CMP</text></g>
<g id="b1c2b"><rect x="524" y="431.8" width="29" height="4.4"/><text x="525" y="434.7">Complejidad en cascada</text></g>
<g id="b1c2c"><rect x="524" y="437.8" width="20" height="4.4"/><text x="525" y="440.7">Origen de la vida</text></g>
<g id="b1d"><rect x="433" y="448.8" width="21" height="4.4"/><text x="434" y="451.7">Proteínas del núcleo</text></g>
<g id="b1d1"><rect x="460" y="443.8" width="32" height="4.4"/><text x="461" y="446.7">Interacción con otros genes</text></g>
<g id="b1d2"><rect x="460" y="452.8" width="7" height="4.4"/><text x="461" y="455.7">Tipos</text></g>
<g id="b1d2a"><rect x="472" y="449.8" width="14" height="4.4"/><text x="473" y="452.7">Dedos de Zn</text></g>
<g id="b1d2b"><rect x="472" y="456.8" width="25" height="4.4"/><text x="473" y="459.7">Cremallera de leucina</text></g>
<g id="b1e"><rect x="433" y="474.8" width="12" height="4.4"/><text x="434" y="477.7">Regulación</text></g>
<g id="b1e1"><rect x="451" y="465.8" width="16" height="4.4"/><text x="452" y="468.7">Potenciadores</text></g>
<g id="b1e1a"><rect x="472" y="462.8" width="46" height="4.4"/><text x="473" y="465.7">Interacción con factores de transcripción</text></g>
<g id="b1e1a1"><rect x="523" y="462.8" width="19" height="4.4"/><text x="524" y="465.7">ARN polimerasa</text></g>
<g id="b1e1b"><rect x="472" y="468.8" width="38" height="4.4"/><text x="473" y="471.7">Control de la transcripción</text></g>
<g id="b1e1b1"><rect x="515" y="468.8" width="17" height="4.4"/><text x="516" y="471.7">Coactivan ADN</text></g>
<g id="b1e2"><rect x="451" y="474.8" width="16" height="4.4"/><text x="452" y="477.7">Silenciadores</text></g>
<g id="b1e2a"><rect x="472" y="474.8" width="46" height="4.4"/><text x="473" y="477.7">Bloquean interacción potenciador-promotor</text></g>
<g id="b1e3"><rect x="451" y="480.8" width="9" height="4.4"/><text x="452" y="483.7">TATA</text></g>
<g id="b1e3a"><rect x="463" y="480.8" width="33" height="4.4"/><text x="464" y="483.7">Pol II de iniciación</text></g>
<g id="b2"><rect x="412" y="486.8" width="26" height="4.4"/><text x="413" y="489.7">Efectos postraduccionales</text></g>
<g id="b2a"><rect x="442" y="486.8" width="36" height="4.4"/><text x="443" y="489.7">Regulación de la expresión génica</text></g>
<g id="b3"><rect x="412" y="527.8" width="28" height="4.4"/><text x="413" y="530.7">Características comunes</text></g>
<g id="b3a"><rect x="447" y="495.8" width="10" height="4.4"/><text x="448" y="498.7">Control</text></g>
<g id="b3a1"><rect x="462" y="492.8" width="22" height="4.4"/><text x="463" y="495.7">Negativo: REPRESOR</text></g>
<g id="b3a2"><rect x="462" y="498.8" width="23" height="4.4"/><text x="463" y="501.7">Positivo: ACTIVADOR</text></g>
<g id="b3b"><rect x="447" y="505.8" width="26" height="4.4"/><text x="448" y="508.7">Dependencia en cascada</text></g>
<g id="b3c"><rect x="447" y="514.8" width="11" height="4.4"/><text x="448" y="517.7">Inducción</text></g>
<g id="b3c1"><rect x="462" y="511.8" width="13" height="4.4"/><text x="463" y="514.7">Con lactosa</text></g>
<g id="b3c2"><rect x="462" y="517.8" width="18" height="4.4"/><text x="463" y="520.7">Sin lactosa</text></g>
<g id="b3c2a"><rect x="483" y="517.8" width="32" height="4.4"/><text x="484" y="520.7">No se transcribe gal</text></g>
<g id="b3d"><rect x="447" y="523.8" width="13" height="4.4"/><text x="448" y="526.7">Atenuación</text></g>
<g id="b3d1"><rect x="465" y="523.8" width="31" height="4.4"/><text x="466" y="526.7">Atenuación de la transcripción</text></g>
<g id="b3d2"><rect x="499" y="523.8" width="21" height="4.4"/><text x="500" y="526.7">Específico de trp</text></g>
<g id="b3e"><rect x="447" y="559.8" width="19" height="4.4"/><text x="448" y="562.7">Subtransformación</text></g>
<g id="b3e1"><rect x="473" y="533.8" width="29" height="4.4"/><text x="474" y="536.7">Acoplamiento transcripción</text></g>
<g id="b3e1a"><rect x="505" y="529.8" width="33" height="4.4"/><text x="506" y="532.7">Control positivo y negativo</text></g>
<g id="b3e1b"><rect x="505" y="535.8" width="32" height="4.4"/><text x="506" y="538.7">Operones y catabolitos</text></g>
<g id="b3e2"><rect x="473" y="545.8" width="19" height="4.4"/><text x="474" y="548.7">Autorregulación</text></g>
<g id="b3e2a"><rect x="495" y="542.8" width="17" height="4.4"/><text x="496" y="545.7">Enfermedades</text></g>
<g id="b3e2a1"><rect x="517" y="542.8" width="23" height="4.4"/><text x="518" y="545.7">Desregulaciones</text></g>
<g id="b3e2b"><rect x="495" y="548.8" width="8" height="4.4"/><text x="496" y="551.7">Cáncer</text></g>
<g id="b3e3"><rect x="473" y="585.8" width="15" height="4.4"/><text x="474" y="588.7">Diferencias</text></g>
<g id="b3e3a"><rect x="492" y="579.8" width="12" height="4.4"/><text x="493" y="582.7">Eucariota</text></g>
<g id="b3e3a1"><rect x="508" y="567.8" width="26" height="4.4"/><text x="509" y="570.7">Expresión en el genoma</text></g>
<g id="b3e3a1a"><rect x="540" y="560.8" width="27" height="4.4"/><text x="541" y="563.7">ADN-ARN-PROTEÍNAS</text></g>
<g id="b3e3a1a1"><rect x="572" y="555.8" width="20" height="4.4"/><text x="573" y="558.7">Expresión celular</text></g>
<g id="b3e3a1a2"><rect x="572" y="560.8" width="24" height="4.4"/><text x="573" y="563.7">Regulación tisular</text></g>
<g id="b3e3a1a3"><rect x="572" y="567.8" width="21" height="4.4"/><text x="573" y="570.7">Expresión génica</text></g>
<g id="b3e3a1b"><rect x="540" y="573.8" width="23" height="4.4"/><text x="541" y="576.7">ADN-ARN-PLASMAS</text></g>
<g id="b3e3a2"><rect x="508" y="579.8" width="35" height="4.4"/><text x="509" y="582.7">ARN modificado continuamente</text></g>
<g id="b3e3a3"><rect x="508" y="585.8" width="24" height="4.4"/><text x="509" y="588.7">1 ARN monocistrónico</text></g>
<g id="b3e3b"><rect x="492" y="591.8" width="12" height="4.4"/><text x="493" y="594.7">Procariota</text></g>
<g id="b3e3b1"><rect x="508" y="591.8" width="24" height="4.4"/><text x="509" y="594.7">1 ARN policistrónico</text></g>
<g id="b4"><rect x="413" y="641.8" width="18" height="4.4"/><text x="414" y="644.7">PROCARIOTAS</text></g>
<g id="b4a"><rect x="435" y="641.8" width="9" height="4.4"/><text x="436" y="644.7">Genes</text></g>
<g id="b4a1"><rect x="449" y="623.8" width="14" height="4.4"/><text x="450" y="626.7">OPERONES</text></g>
<g id="b4a1a"><rect x="468" y="597.8" width="44" height="4.4"/><text x="469" y="600.7">François Jacob y Jacques Monod (1961)</text></g>
<g id="b4a1b"><rect x="468" y="604.8" width="29" height="4.4"/><text x="469" y="607.7">Control de la transcripción</text></g>
<g id="b4a1c"><rect x="468" y="610.8" width="27" height="4.4"/><text x="469" y="613.7">Complejos en cascada</text></g>
<g id="b4a1d"><rect x="468" y="623.8" width="7" height="4.4"/><text x="469" y="626.7">Tipos</text></g>
<g id="b4a1d1"><rect x="480" y="616.8" width="15" height="4.4"/><text x="481" y="619.7">Catabólicos</text></g>
<g id="b4a1d1a"><rect x="500" y="616.8" width="6" height="4.4"/><text x="501" y="619.7">Lac</text></g>
<g id="b4a1d1b"><rect x="510" y="616.8" width="28" height="4.4"/><text x="511" y="619.7">Importantes aplicaciones</text></g>
<g id="b4a1d2"><rect x="480" y="629.8" width="15" height="4.4"/><text x="481" y="632.7">Anabólicos</text></g>
<g id="b4a1d2a"><rect x="500" y="629.8" width="6" height="4.4"/><text x="501" y="632.7">Trp</text></g>
<g id="b4a1d2b"><rect x="510" y="629.8" width="14" height="4.4"/><text x="511" y="632.7">Atenuación</text></g>
<g id="b4a1d2b1"><rect x="528" y="622.8" width="22" height="4.4"/><text x="529" y="625.7">CTCP transcripción</text></g>
<g id="b4a1d2b2"><rect x="528" y="629.8" width="34" height="4.4"/><text x="529" y="632.7">Bajo Trp → transcripción continua</text></g>
<g id="b4a1d2b3"><rect x="528" y="635.8" width="27" height="4.4"/><text x="529" y="638.7">Alto Trp → se detiene</text></g>
<g id="b4a1e"><rect x="468" y="641.8" width="20" height="4.4"/><text x="469" y="644.7">Regulación C/S</text></g>
<g id="b4a1e1"><rect x="492" y="641.8" width="26" height="4.4"/><text x="493" y="644.7">Cambios conformacionales</text></g>
<g id="b4a2"><rect x="449" y="648.8" width="24" height="4.4"/><text x="450" y="651.7">Inducción/Represión</text></g>
<g id="b4a3"><rect x="449" y="660.8" width="14" height="4.4"/><text x="450" y="663.7">Operón lac</text></g>
<g id="b4a3a"><rect x="468" y="654.8" width="10" height="4.4"/><text x="469" y="657.7">Lactosa</text></g>
<g id="b4a3b"><rect x="468" y="660.8" width="26" height="4.4"/><text x="469" y="663.7">Concentración glucosa</text></g>
<g id="b4a3c"><rect x="468" y="666.8" width="39" height="4.4"/><text x="469" y="669.7">Regulación de la expresión génica</text></g>
<g id="b5"><rect x="412" y="735.8" width="33" height="4.4"/><text x="413" y="738.7">ARN NO CODIFICANTE</text></g>
<g id="b5a"><rect x="452" y="679.8" width="29" height="4.4"/><text x="453" y="682.7">ARN interferencia (siRNA)</text></g>
<g id="b5a1"><rect x="487" y="672.8" width="13" height="4.4"/><text x="488" y="675.7">Silencian</text></g>
<g id="b5a2"><rect x="487" y="679.8" width="18" height="4.4"/><text x="488" y="682.7">Procesos de virus</text></g>
<g id="b5a3"><rect x="487" y="685.8" width="23" height="4.4"/><text x="488" y="688.7">Enfermedad (cáncer)</text></g>
<g id="b5b"><rect x="452" y="694.8" width="7" height="4.4"/><text x="452.7" y="697.7">Otros</text></g>
<g id="b5b1"><rect x="465" y="690.8" width="7" height="4.4"/><text x="465.7" y="693.7">piRNA</text></g>
<g id="b5b2"><rect x="465" y="697.8" width="7" height="4.4"/><text x="465.7" y="700.7">snRNA</text></g>
<g id="b5c"><rect x="452" y="724.8" width="8" height="4.4"/><text x="452.8" y="727.7">miRNA</text></g>
<g id="b5c1"><rect x="466" y="703.8" width="10" height="4.4"/><text x="467" y="706.7">Mitosis</text></g>
<g id="b5c1a"><rect x="481" y="703.8" width="17" height="4.4"/><text x="482" y="706.7">Tejidos diana</text></g>
<g id="b5c2"><rect x="466" y="709.8" width="42" height="4.4"/><text x="467" y="712.7">Responsable del desarrollo cognitivo humano</text></g>
<g id="b5c3"><rect x="466" y="716.8" width="32" height="4.4"/><text x="467" y="719.7">Codifican péptidos pequeños</text></g>
<g id="b5c3a"><rect x="504" y="716.8" width="16" height="4.4"/><text x="505" y="719.7">Micropéptidos</text></g>
<g id="b5c4"><rect x="466" y="722.2" width="38" height="7.6"/><text x="467" y="725.1">Enfermedades neurodegenerativas y</text><text x="467" y="727.9">cardiovasculares</text></g>
<g id="b5c5"><rect x="466" y="731.8" width="26" height="4.4"/><text x="467" y="734.7">Implicado en apoptosis</text></g>
<g id="b5c6"><rect x="466" y="737.8" width="8" height="4.4"/><text x="467" y="740.7">Cáncer</text></g>
<g id="b5d"><rect x="452" y="756.8" width="8" height="4.4"/><text x="453" y="759.7">tRFs</text></g>
<g id="b5d1"><rect x="466" y="743.8" width="51" height="4.4"/><text x="467" y="746.7">Relacionados con modificaciones de proteínas</text></g>
<g id="b5d2"><rect x="466" y="749.8" width="22" height="4.4"/><text x="467" y="752.7">Mitocondria (tRF)</text></g>
<g id="b5d3"><rect x="466" y="755.8" width="39" height="4.4"/><text x="467" y="758.7">Procesos de transcripción/traducción</text></g>
<g id="b5d4"><rect x="466" y="768.8" width="7" height="4.4"/><text x="467" y="771.7">Tipos</text></g>
<g id="b5d4a"><rect x="476" y="762.8" width="14" height="4.4"/><text x="477" y="765.7">Metabolismo</text></g>
<g id="b5d4b"><rect x="476" y="768.8" width="8" height="4.4"/><text x="477" y="771.7">Cáncer</text></g>
<g id="b5d4c"><rect x="476" y="774.8" width="29" height="4.4"/><text x="477" y="777.7">Enfermedad neurológica</text></g>
<g id="b5e"><rect x="452" y="793.8" width="9" height="4.4"/><text x="452.8" y="796.7">lncRNA</text></g>
<g id="b5e1"><rect x="466" y="781.8" width="6" height="4.4"/><text x="466.6" y="784.7">NMD</text></g>
<g id="b5e1a"><rect x="476" y="781.8" width="37" height="4.4"/><text x="477" y="784.7">Degradación del ARNm de control</text></g>
<g id="b5e2"><rect x="466" y="787.8" width="16" height="4.4"/><text x="467" y="790.7">Tamaño variable</text></g>
<g id="b5e3"><rect x="466" y="793.8" width="20" height="4.4"/><text x="467" y="796.7">Inflamación global</text></g>
<g id="b5e4"><rect x="466" y="802.8" width="11" height="4.4"/><text x="467" y="805.7">Procesos</text></g>
<g id="b5e4a"><rect x="488" y="799.8" width="19" height="4.4"/><text x="489" y="802.7">Paratelómeros</text></g>
<g id="b5e4b"><rect x="488" y="805.8" width="30" height="4.4"/><text x="489" y="808.7">Elementos reguladores de genes</text></g>
<g id="b5e5"><rect x="466" y="811.8" width="11" height="4.4"/><text x="467" y="814.7">Escalado</text></g>
<g id="b5e5a"><rect x="482" y="811.8" width="18" height="4.4"/><text x="483" y="814.7">Micropéptidos</text></g>
<g id="bi1"><rect x="552" y="723.3" width="19" height="7.4"/><text x="553" y="726.2">Degradación del</text><text x="553" y="729">ARN (procariotas)</text></g>
<g id="bi1a"><rect x="575" y="717.8" width="18" height="4.4"/><text x="576" y="720.7">Procesa ARNm</text></g>
<g id="bi1b"><rect x="575" y="723.8" width="16" height="4.4"/><text x="576" y="726.7">Degrada ARN</text></g>
<g id="bi1c"><rect x="575" y="729.8" width="43" height="4.4"/><text x="576" y="732.7">Control del procesamiento (eucariotas)</text></g>
<g id="bi2"><rect x="552" y="742.8" width="27" height="4.4"/><text x="553" y="745.7">Estabilidad (procariotas)</text></g>
<g id="bi2a"><rect x="585" y="736.8" width="21" height="4.4"/><text x="586" y="739.7">Cataliza proteínas</text></g>
<g id="bi2b"><rect x="585" y="742.8" width="15" height="4.4"/><text x="586" y="745.7">Degrada ARN</text></g>
<g id="bi2c"><rect x="585" y="748.8" width="41" height="4.4"/><text x="586" y="751.7">Interacciones entre distintos ecosistemas</text></g>
<g id="bi3"><rect x="552" y="758.8" width="27" height="4.4"/><text x="553" y="761.7">CRISPR-Cas (procariotas)</text></g>
<g id="bi3a"><rect x="585" y="754.8" width="39" height="4.4"/><text x="586" y="757.7">Degrada ácido nucleico EXÓGENO</text></g>
<g id="bi3b"><rect x="585" y="760.8" width="21" height="4.4"/><text x="586" y="763.7">Seguridad genética</text></g>
</g>

<g class="bx">
<g id="bx-cascada"><rect x="548" y="113" width="26" height="5"/><text x="561" y="116.2">Proceso en cascada</text></g>
<g id="bx-curiosidades"><rect x="582" y="149.5" width="21" height="5"/><text x="592.5" y="152.7">Curiosidades</text></g>
<g id="bx-vesicula"><rect x="81.5" y="207.5" width="14.5" height="5"/><text x="88.75" y="210.7">Vesícula</text></g>
<g id="bx-energia"><rect x="34" y="309.5" width="44" height="5"/><text x="56" y="312.7">Obtención e intercambio de energía</text></g>
<g id="bx-degradacion"><rect x="55" y="513.5" width="38" height="5"/><text x="74" y="516.7">LA DEGRADACIÓN DE PROTEÍNAS</text></g>
<g id="bx-investigacion"><rect x="118" y="590.5" width="22" height="5"/><text x="129" y="593.7">Investigación</text></g>
<g id="bx-celula"><rect x="503" y="657.5" width="22" height="5"/><text x="514" y="660.7">La misma célula</text></g>
<g id="bx-importancia"><rect x="529" y="742.5" width="19" height="5"/><text x="538.5" y="745.7">Importancia</text></g>
</g>

<text x="374.5" y="843" style="font-size:2.6px;fill:#c8c8c8;text-anchor:middle">Preparado con xmind</text>
</svg>
